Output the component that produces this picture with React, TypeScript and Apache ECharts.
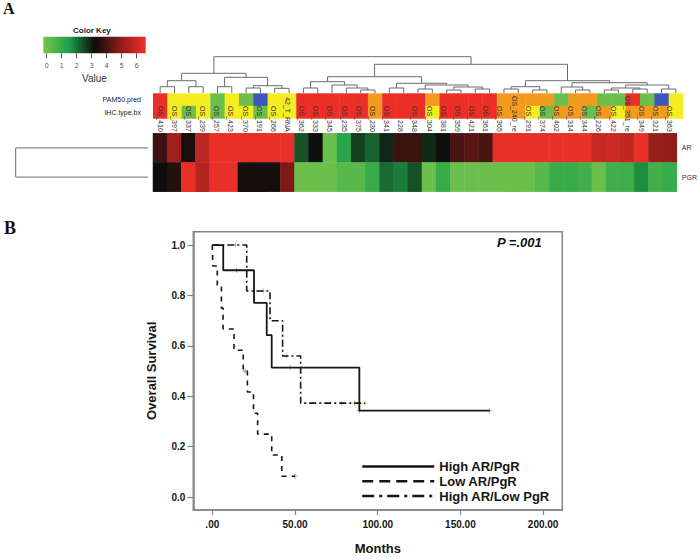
import React, { useEffect, useRef } from 'react';
import * as echarts from 'echarts';

// ---------- Panel A data ----------
const colLabels = ['OS_410','OS_397','OS_337','OS_239','OS_257','OS_423','OS_370','OS_191','OS_266','42_T_RNA','OS_362','OS_333','OS_345','OS_235','OS_375','OS_230','OS_341','228','OS_348','OS_304','OS_381','OS_359','OS_421','OS_361','OS_365','OS_240_re','OS_291','OS_374','OS_402','OS_314','OS_344','OS_226','OS_422','OS_351_re','OS_349','OS_321','OS_363'];
const rowLabels = ['AR', 'PGR'];
const arValues = [3.8, 5.2, 3.35, 5.7, 6.5, 6.5, 6.5, 6.5, 6.5, 6.5, 2.4, 3.15, 0.0, 1.3, 2.6, 2.2, 2.9, 3.8, 3.8, 2.85, 3.15, 4.0, 4.2, 4.0, 6.5, 6.5, 6.5, 6.5, 6.5, 6.5, 6.5, 5.9, 6.0, 5.8, 6.5, 5.1, 5.0];
const pgrValues = [3.2, 3.5, 6.5, 5.6, 6.5, 6.5, 3.3, 3.3, 3.3, 4.7, 0.0, 0.0, 0.0, 0.4, 0.4, 1.0, 2.1, 1.9, 2.4, 0.0, 1.0, 0.0, 0.0, 0.0, 0.0, 0.0, 0.0, 0.4, 1.0, 1.0, 0.8, 0.0, 0.8, 0.9, 1.7, 0.8, 1.0];
const annRows = ['PAM50.pred', 'IHC.type.bx'];
const annCodes = ['r', 'y', 'g', 'b', 'o'];
const annPalette = ['#ec2f26', '#f5ec22', '#6dbf4b', '#3e55bd', '#f39a1f'];
const pam50 = 'r y y y g y g b y y r r r r r o r r r o r r r r o o o o g o o g g r g b y'.split(' ');
const ihc = 'r y g y g y y g y y r r r r r o r r r y r r r r o o y g o o g o y o o o y'.split(' ');
type TreeNode = number | [number, TreeNode, TreeNode];
const colTree: TreeNode = [36.3,
  [19.7,
    [12.3, [6.3, 0, 1], [6.3, 2, 3]],
    [15.7, [6.3, 4, 5], [7.3, [5, 6, 7], [4.7, 8, 9]]]],
  [28.7,
    [16.3,
      [11.3, [5, 10, 11], [8, 12, [5, 13, [3, 14, 15]]]],
      [9.7, [5, 16, 17], [8, [4, 18, 19], [6, [3, 20, 21], [4, 22, 23]]]]],
    [12.3,
      [6.3, [4, 24, 25], [3, 26, 27]],
      [10.3, [6, 28, [3, 29, 30]], [8, [5, [3, 31, 32], [4, 33, 34]], [4, 35, 36]]]]]];
const rowTree: TreeNode = [1, 0, 1];
const keyMin = -0.22;
const keyMax = 6.6;
const keyTicks = [0, 1, 2, 3, 4, 5, 6];
const heatColors = ['#76c54d', '#20a04a', '#0d0d0b', '#8b1c18', '#ef3129'];

// ---------- Panel B data (Kaplan-Meier) ----------
const monthTicks = [0, 50, 100, 150, 200];
const survTicks = [0, 0.2, 0.4, 0.6, 0.8, 1.0];
const highArPgr = [[0, 1], [6.6, 0.9], [25.2, 0.771], [32.9, 0.643], [35.9, 0.514], [88.9, 0.343], [167.5, 0.343]];
const lowArPgr = [[0, 1], [0.3, 0.917], [3, 0.833], [5.5, 0.75], [6.5, 0.667], [13.1, 0.583], [18.7, 0.5], [21.2, 0.417], [24.9, 0.333], [27.4, 0.25], [35.9, 0.167], [42, 0.083], [50, 0.083]];
const highArLowPgr = [[0, 1], [20.8, 0.818], [34.9, 0.7], [42.5, 0.56], [53.4, 0.373], [92.3, 0.373]];
const censHigh = [[14.7, 0.9], [47, 0.514], [88.9, 0.343], [167.5, 0.343]];
const censLow = [[19.8, 0.5], [50, 0.083]];
const censMixed = [[14, 1], [30.8, 0.818], [45, 0.56], [78, 0.373], [86, 0.373], [92.3, 0.373]];

function flatten(node: TreeNode, segs: number[][]): { x: number; h: number } {
  if (typeof node === 'number') return { x: node, h: 0 };
  const [h, a, b] = node;
  const l = flatten(a, segs);
  const r = flatten(b, segs);
  segs.push([l.x, l.h, r.x, r.h, h]);
  return { x: (l.x + r.x) / 2, h };
}

function dendroRender(vertical: boolean) {
  return (params: any, api: any) => {
    const xl = api.value(0), hl = api.value(1), xr = api.value(2), hr = api.value(3), h = api.value(4);
    const pts = vertical
      ? [[xl, hl], [xl, h], [xr, h], [xr, hr]]
      : [[hl, xl], [h, xl], [h, xr], [hr, xr]];
    return {
      type: 'polyline',
      shape: { points: pts.map((p) => api.coord(p)) },
      style: { stroke: '#6a6a6a', lineWidth: 1, fill: null },
    };
  };
}

const plusSymbol = 'path://M0,5L10,5M5,0L5,10';

export default function App() {
  const ref = useRef<HTMLDivElement>(null);
  useEffect(() => {
    const chart = echarts.init(ref.current!, null, { renderer: 'svg' });
    const colSegs: number[][] = [];
    flatten(colTree, colSegs);
    const rowSegs: number[][] = [];
    flatten(rowTree, rowSegs);
    const heatData: number[][] = [];
    arValues.forEach((v, i) => heatData.push([i, 0, v]));
    pgrValues.forEach((v, i) => heatData.push([i, 1, v]));
    const annData: number[][] = [];
    pam50.forEach((c, i) => annData.push([i, 0, annCodes.indexOf(c)]));
    ihc.forEach((c, i) => annData.push([i, 1, annCodes.indexOf(c)]));
    const font = 'Liberation Sans, Arial, sans-serif';
    const boldLbl = { fontWeight: 'bold', fontSize: 10, color: '#151515', fontFamily: font };
    const kmLine = { color: '#161616' };

    const option: any = {
      animation: false,
      textStyle: { fontFamily: font },
      title: [
        { text: 'A', left: 3, top: 0, padding: 0, textStyle: { fontFamily: 'Liberation Serif', fontWeight: 'bold', fontSize: 16, color: '#111' } },
        { text: 'B', left: 4, top: 219, padding: 0, textStyle: { fontFamily: 'Liberation Serif', fontWeight: 'bold', fontSize: 18, color: '#111' } },
        { text: 'Color Key', left: 73, top: 26, padding: 0, textStyle: { fontWeight: 'bold', fontSize: 8, color: '#222' } },
        { text: 'P =.001', left: 497, top: 236, padding: 0, textStyle: { fontWeight: 'bold', fontStyle: 'italic', fontSize: 13, color: '#111' } },
      ],
      grid: [
        { left: 43.3, top: 36.7, width: 102.4, height: 16.6 },
        { left: 153, top: 56.7, width: 530, height: 36.3 },
        { left: 153, top: 93.3, width: 530, height: 25 },
        { left: 153, top: 133.3, width: 530, height: 58.4 },
        { left: 15.7, top: 133.3, width: 132.3, height: 58.4 },
        { left: 193.3, top: 231.7, width: 369, height: 281.6, show: true, borderColor: '#858585', borderWidth: 1.5 },
      ],
      xAxis: [
        {
          type: 'value', gridIndex: 0, min: keyMin, max: keyMax,
          axisLine: { show: false }, splitLine: { show: false },
          axisTick: { customValues: keyTicks, length: 5, lineStyle: { color: '#555' } },
          axisLabel: { customValues: keyTicks, fontSize: 7, color: '#555', margin: 9 },
          name: 'Value', nameLocation: 'middle', nameGap: 19.7, nameTextStyle: { fontSize: 10, color: '#333' },
        },
        { type: 'value', gridIndex: 1, min: -0.5, max: 36.5, show: false },
        { type: 'category', gridIndex: 2, data: colLabels, show: false },
        {
          type: 'category', gridIndex: 3, data: colLabels, position: 'top', z: 10,
          axisLine: { show: false }, axisTick: { show: false },
          axisLabel: { rotate: 90, interval: 0, fontSize: 7, margin: 1.5, color: '#333' },
        },
        { type: 'value', gridIndex: 4, min: 0, max: 1, inverse: true, show: false },
        {
          type: 'value', gridIndex: 5, min: -11.5, max: 211.6,
          axisLine: { show: true, onZero: false, lineStyle: { color: '#858585', width: 1.5 } },
          axisTick: { customValues: monthTicks, length: 5, lineStyle: { color: '#858585', width: 1.2 } },
          axisLabel: { customValues: monthTicks, ...boldLbl, margin: 9, formatter: (v: number) => (v === 0 ? '.00' : v.toFixed(2)) },
          splitLine: { show: false },
          name: 'Months', nameLocation: 'middle', nameGap: 32,
          nameTextStyle: { fontWeight: 'bold', fontSize: 13, color: '#151515', fontFamily: font },
        },
      ],
      yAxis: [
        { type: 'value', gridIndex: 0, min: 0, max: 1, show: false },
        { type: 'value', gridIndex: 1, min: 0, max: 36.3, show: false },
        {
          type: 'category', gridIndex: 2, data: annRows, inverse: true,
          axisLine: { show: false }, axisTick: { show: false },
          axisLabel: { fontSize: 7, color: '#222', margin: 12 },
        },
        {
          type: 'category', gridIndex: 3, data: rowLabels, inverse: true, position: 'right',
          axisLine: { show: false }, axisTick: { show: false },
          axisLabel: { fontSize: 7, color: '#333', margin: 5 },
        },
        { type: 'category', gridIndex: 4, data: rowLabels, inverse: true, show: false },
        {
          type: 'value', gridIndex: 5, min: -0.051, max: 1.053,
          axisLine: { show: true, onZero: false, lineStyle: { color: '#858585', width: 1.5 } },
          axisTick: { customValues: survTicks, length: 6, lineStyle: { color: '#858585', width: 1.2 } },
          axisLabel: { customValues: survTicks, ...boldLbl, margin: 8, formatter: (v: number) => v.toFixed(1) },
          splitLine: { show: false },
          name: 'Overall Survival', nameLocation: 'middle', nameGap: 35,
          nameTextStyle: { fontWeight: 'bold', fontSize: 13, color: '#151515', fontFamily: font },
        },
      ],
      visualMap: {
        type: 'continuous', min: keyMin, max: keyMax, dimension: 2, seriesIndex: 2, show: false,
        inRange: { color: heatColors },
      },
      legend: {
        orient: 'vertical', left: 361, top: 460, padding: 0, itemWidth: 72, itemHeight: 14, itemGap: 1.8,
        selectedMode: false,
        textStyle: { fontWeight: 'bold', fontSize: 13, color: '#151515', fontFamily: font },
        data: [
          { name: 'High AR/PgR', itemStyle: { opacity: 0 }, lineStyle: { type: 'solid', width: 2.5 } },
          { name: 'Low AR/PgR', itemStyle: { opacity: 0 }, lineStyle: { type: [11, 6], width: 2.5 } },
          { name: 'High AR/Low PgR', itemStyle: { opacity: 0 }, lineStyle: { type: [12, 5, 3, 5], width: 2.5 } },
        ],
      },
      series: [
        {
          type: 'custom', xAxisIndex: 1, yAxisIndex: 1, data: colSegs, renderItem: dendroRender(true), silent: true,
        },
        {
          type: 'custom', xAxisIndex: 2, yAxisIndex: 2, data: annData, silent: true,
          renderItem: (params: any, api: any) => {
            const c = api.coord([api.value(0), api.value(1)]);
            const s = api.size([1, 1]);
            return {
              type: 'rect',
              shape: { x: c[0] - s[0] / 2, y: c[1] - s[1] / 2, width: s[0] + 0.4, height: s[1] + 0.4 },
              style: { fill: annPalette[api.value(2)] },
            };
          },
        },
        {
          type: 'heatmap', xAxisIndex: 3, yAxisIndex: 3, data: heatData, silent: true,
          emphasis: { disabled: true },
        },
        {
          type: 'custom', xAxisIndex: 4, yAxisIndex: 4, data: rowSegs, renderItem: dendroRender(false), silent: true,
        },
        {
          type: 'custom', xAxisIndex: 0, yAxisIndex: 0, data: [[keyMin, keyMax]], silent: true,
          renderItem: (params: any, api: any) => {
            const p0 = api.coord([api.value(0), 1]);
            const p1 = api.coord([api.value(1), 0]);
            return {
              type: 'rect',
              shape: { x: p0[0], y: p0[1], width: p1[0] - p0[0], height: p1[1] - p0[1] },
              style: {
                fill: new echarts.graphic.LinearGradient(0, 0, 1, 0,
                  heatColors.map((c, i) => ({ offset: i / (heatColors.length - 1), color: c }))),
              },
            };
          },
        },
        {
          name: 'High AR/PgR', type: 'line', xAxisIndex: 5, yAxisIndex: 5, data: highArPgr, step: 'end',
          symbol: 'none', lineStyle: { width: 1.8, type: 'solid' }, itemStyle: kmLine, color: '#161616',
        },
        {
          name: 'Low AR/PgR', type: 'line', xAxisIndex: 5, yAxisIndex: 5, data: lowArPgr, step: 'end',
          symbol: 'none', lineStyle: { width: 1.6, type: [5, 5] }, itemStyle: kmLine, color: '#161616',
        },
        {
          name: 'High AR/Low PgR', type: 'line', xAxisIndex: 5, yAxisIndex: 5, data: highArLowPgr, step: 'end',
          symbol: 'none', lineStyle: { width: 1.6, type: [7, 3, 2, 3] }, itemStyle: kmLine, color: '#161616',
        },
        {
          type: 'scatter', xAxisIndex: 5, yAxisIndex: 5, data: censHigh, symbol: plusSymbol, symbolSize: 5,
          itemStyle: { color: 'transparent', borderColor: '#7c7cdc', borderWidth: 1 }, silent: true,
        },
        {
          type: 'scatter', xAxisIndex: 5, yAxisIndex: 5, data: censLow, symbol: plusSymbol, symbolSize: 5,
          itemStyle: { color: 'transparent', borderColor: '#3fb24a', borderWidth: 1 }, silent: true,
        },
        {
          type: 'scatter', xAxisIndex: 5, yAxisIndex: 5, data: censMixed, symbol: plusSymbol, symbolSize: 5,
          itemStyle: { color: 'transparent', borderColor: '#a8c060', borderWidth: 1 }, silent: true,
        },
      ],
    };
    chart.setOption(option);
    return () => chart.dispose();
  }, []);
  return <div ref={ref} style={{ position: 'absolute', left: 0, top: 0, width: 700, height: 560 }} />;
}
